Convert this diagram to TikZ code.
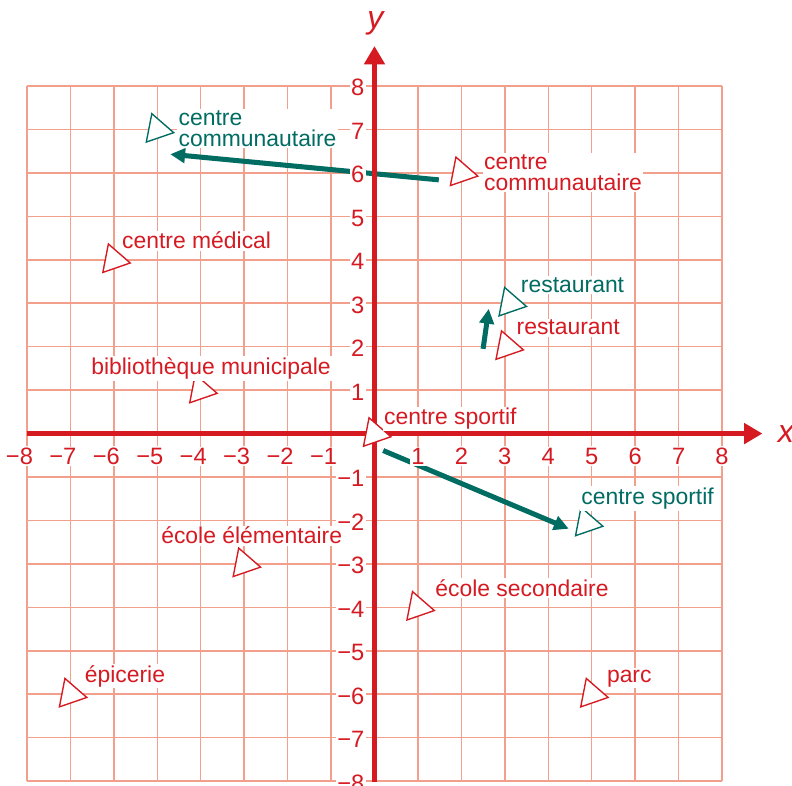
\documentclass[tikz,border=0pt]{standalone}
\usepackage{fontspec}
\setmainfont{Liberation Sans}
\usetikzlibrary{arrows.meta,shapes.geometric}
\definecolor{axred}{RGB}{214,26,34}
\definecolor{gridc}{RGB}{242,160,140}
\definecolor{teal2}{RGB}{0,108,98}
\tikzset{
  gridline/.style={gridc, line width=1pt},
  axisline/.style={axred, line width=3.3pt, -{Triangle[length=0.42cm,width=0.46cm]}},
  ticklbl/.style={text=axred, fill=white, inner sep=1pt, font=\fontsize{15.5}{15.5}\selectfont},
  marker/.style={regular polygon, regular polygon sides=3, minimum size=0.77cm, inner sep=0pt, shape border rotate=-101, fill=white, line width=0.9pt, draw},
  redmark/.style={marker, draw=axred},
  tealmark/.style={marker, draw=teal2},
  lbl/.style={anchor=base west, fill=white, inner sep=1pt, align=left, font=\fontsize{15}{14}\selectfont},
  redlbl/.style={lbl, text=axred},
  teallbl/.style={lbl, text=teal2},
  move/.style={teal2, line width=3.3pt, -{Triangle[length=0.34cm,width=0.33cm]}},
  axname/.style={text=axred, inner sep=0pt, font=\fontsize{21}{21}\selectfont\itshape},
}
\begin{document}
\begin{tikzpicture}
\useasboundingbox (-8.62,-8.11) rectangle (9.61,9.98);
% grid
\draw[gridline] (-8,-8) grid (8,8);
% movement arrows
\coordinate (c1s) at (1.48,5.84);
\coordinate (c1e) at (-4.70,6.43);
\coordinate (c2s) at (2.50,1.95);
\coordinate (c2e) at (2.63,2.87);
\coordinate (c3s) at (0.20,-0.39);
\coordinate (c3e) at (4.47,-2.19);
\draw[move] (c1s) -- (c1e);
\draw[move] (c2s) -- (c2e);
\draw[move] (c3s) -- (c3e);
% tick labels
\foreach \n in {1,...,8} {
  \node[ticklbl] (xp\n) at (\n,-0.52) {\n};
  \node[ticklbl, anchor=east] (xn\n) at (-\n+0.18,-0.52) {−\n};
  \node[ticklbl, anchor=east] (yp\n) at (-0.19,\n-0.04) {\n};
  \node[ticklbl, anchor=east] (yn\n) at (-0.19,-\n-0.04) {−\n};
}
% axes
\coordinate (xs) at (-8,0);
\coordinate (xe) at (8.93,0);
\coordinate (ys) at (0,-8.03);
\coordinate (ye) at (0,8.92);
\draw[axisline] (xs) -- (xe);
\draw[axisline] (ys) -- (ye);
\node[axname] (xlab) at (9.47,0) {x};
\node[axname] (ylab) at (0.02,9.45) {y};
% markers
\node[redmark] (m1) at (2,6) {};
\node[tealmark] (m2) at (-5,7) {};
\node[redmark] (m3) at (-6,4) {};
\node[redmark] (m4) at (-4,1) {};
\node[redmark] (m5) at (0,0) {};
\node[tealmark] (m6) at (4.88,-2.06) {};
\node[tealmark] (m7) at (3.12,3) {};
\node[redmark] (m8) at (3.05,2) {};
\node[redmark] (m9) at (-3,-3) {};
\node[redmark] (m10) at (-7,-6) {};
\node[redmark] (m11) at (1,-4) {};
\node[redmark] (m12) at (5,-6) {};
% labels
\node[teallbl] (l2) at (-4.55,6.61) {centre\\communautaire};
\node[redlbl] (l1) at (2.48,5.59) {centre\\communautaire};
\node[redlbl] (l3) at (-5.85,4.25) {centre médical};
\node[redlbl] (l4) at (-6.56,1.36) {bibliothèque municipale};
\node[redlbl] (l5) at (0.18,0.2) {centre sportif};
\node[teallbl] (l6) at (4.72,-1.63) {centre sportif};
\node[teallbl] (l7) at (3.33,3.25) {restaurant};
\node[redlbl] (l8) at (3.23,2.27) {restaurant};
\node[redlbl] (l9) at (-4.95,-2.54) {école élémentaire};
\node[redlbl] (l10) at (-6.71,-5.72) {épicerie};
\node[redlbl] (l11) at (1.36,-3.75) {école secondaire};
\node[redlbl] (l12) at (5.31,-5.72) {parc};
\end{tikzpicture}
\end{document}
